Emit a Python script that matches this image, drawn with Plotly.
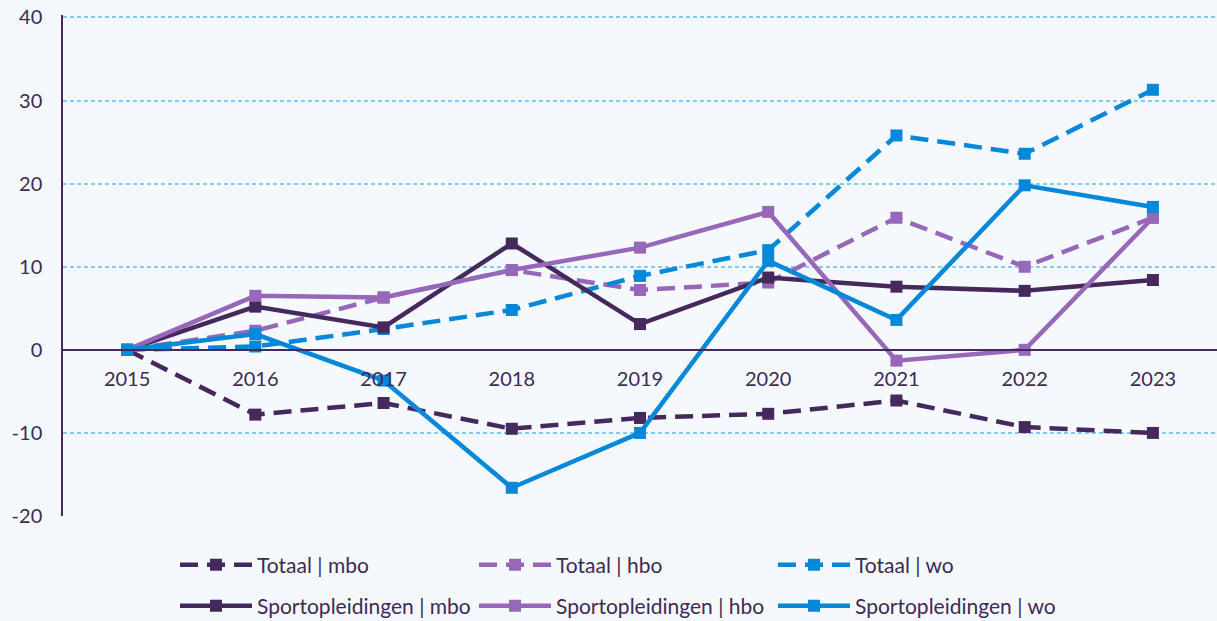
import plotly.graph_objects as go

years = ["2015", "2016", "2017", "2018", "2019", "2020", "2021", "2022", "2023"]
totaal_mbo = [0, -7.8, -6.4, -9.5, -8.2, -7.7, -6.1, -9.3, -10.0]
totaal_hbo = [0, 2.3, 6.3, 9.6, 7.2, 8.1, 15.9, 10.0, 15.9]
totaal_wo = [0, 0.4, 2.5, 4.8, 8.9, 12.0, 25.8, 23.6, 31.3]
sport_mbo = [0, 5.2, 2.7, 12.8, 3.1, 8.7, 7.6, 7.1, 8.4]
sport_hbo = [0, 6.5, 6.3, 9.6, 12.3, 16.6, -1.3, 0.0, 15.9]
sport_wo = [0, 1.9, -3.7, -16.6, -10.0, 10.7, 3.6, 19.8, 17.2]
y_ticks = [-20, -10, 0, 10, 20, 30, 40]
y_ticktext = ["-20", "-10", "0", "10", "20", "30", "40"]

DARK = "#45295d"
LIGHT = "#9767b9"
BLUE = "#0588da"
TEXT = "#3d2a55"
BG = "#f5f9fe"

series = [
    ("Totaal | mbo", totaal_mbo, DARK, "18px,9px", "legend"),
    ("Totaal | hbo", totaal_hbo, LIGHT, "18px,9px", "legend"),
    ("Totaal | wo", totaal_wo, BLUE, "18px,9px", "legend"),
    ("Sportopleidingen | mbo", sport_mbo, DARK, "solid", "legend2"),
    ("Sportopleidingen | hbo", sport_hbo, LIGHT, "solid", "legend2"),
    ("Sportopleidingen | wo", sport_wo, BLUE, "solid", "legend2"),
]

fig = go.Figure()
for name, vals, col, dash, lg in series:
    fig.add_trace(go.Scatter(
        x=years, y=vals, name=name, mode="lines+markers",
        line=dict(color=col, width=4.5, dash=dash),
        marker=dict(symbol="square", size=12, color=col),
        legend=lg,
    ))

font = dict(family="Lato, 'Open Sans', sans-serif", size=20, color=TEXT)
legfont = dict(family="Lato, 'Open Sans', sans-serif", size=21, color=TEXT)

common_leg = dict(
    orientation="h", xref="container", yref="container",
    x=175 / 1217, xanchor="left", yanchor="middle",
    entrywidth=212, entrywidthmode="pixels", itemwidth=72,
    font=legfont, bgcolor="rgba(0,0,0,0)",
)

Y_TOP = 40.3

fig.update_layout(
    width=1217, height=621,
    margin=dict(l=63, r=0, t=15, b=105, autoexpand=False),
    paper_bgcolor=BG, plot_bgcolor=BG,
    font=font,
    xaxis=dict(
        type="category", range=[-0.5, 8.5],
        showgrid=False, showline=True, linecolor=DARK, linewidth=1.5,
        anchor="free", position=20 / (Y_TOP + 20),
        ticks="outside", ticklen=11, tickcolor="rgba(0,0,0,0)",
        tickfont=font, zeroline=False,
    ),
    yaxis=dict(
        range=[-20, Y_TOP], tickvals=y_ticks, ticktext=y_ticktext,
        showgrid=True, gridcolor="#80ccf8", griddash="4px,3px", gridwidth=1.5,
        showline=True, linecolor=DARK, linewidth=1.5,
        zeroline=False,
        ticks="outside", ticklen=15, tickcolor="rgba(0,0,0,0)",
        tickfont=font,
    ),
    legend=dict(common_leg, y=1 - 565 / 621),
    legend2=dict(common_leg, y=1 - 606 / 621),
    showlegend=True,
)

fig.write_html(
    "out.html",
    config={"displayModeBar": False},
    post_script="document.body.style.margin='0';document.body.style.background='#f5f9fe';",
)
